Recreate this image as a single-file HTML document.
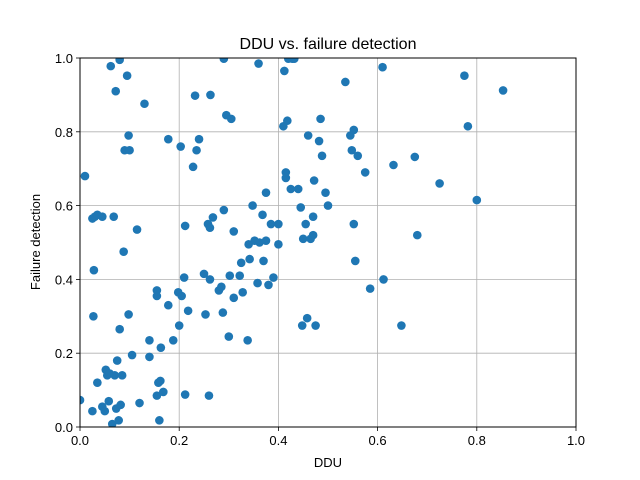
<!DOCTYPE html>
<html><head><meta charset="utf-8"><style>body{margin:0;background:#fff}svg{display:block;font-family:"Liberation Sans","DejaVu Sans",sans-serif}</style></head>
<body>
<svg id="chart" width="640" height="480">
<defs><clipPath id="clip"><rect x="80" y="58" width="496" height="369"/></clipPath></defs>
<rect width="640" height="480" fill="#fff"/>
<text x="328" y="49" text-anchor="middle" font-size="16">DDU vs. failure detection</text>
<g id="grid"></g>
<g id="points" clip-path="url(#clip)"></g>
<rect x="80" y="58" width="496" height="369" fill="none" stroke="#000" stroke-width="1"/>
<g id="ticks"></g>
<text x="328" y="467" text-anchor="middle" font-size="13">DDU</text>
<text x="40" y="242" text-anchor="middle" font-size="13" transform="rotate(-90 40 242)">Failure detection</text>
</svg>
<script>
const xTicks=[0,0.2,0.4,0.6,0.8,1.0];
const xTickLabels=["0.0","0.2","0.4","0.6","0.8","1.0"];
const yTicks=[0,0.2,0.4,0.6,0.8,1.0];
const yTickLabels=["0.0","0.2","0.4","0.6","0.8","1.0"];
const ddu=[0.0,0.01,0.025,0.027,0.028,0.025,0.03,0.035,0.035,0.045,0.045,0.05,0.052,0.055,0.058,0.06,0.062,0.065,0.068,0.07,0.072,0.073,0.075,0.078,0.08,0.08,0.082,0.085,0.088,0.09,0.095,0.098,0.1,0.098,0.105,0.115,0.12,0.13,0.14,0.14,0.155,0.155,0.155,0.158,0.16,0.162,0.163,0.168,0.178,0.178,0.188,0.198,0.2,0.203,0.205,0.21,0.212,0.212,0.218,0.228,0.232,0.235,0.24,0.25,0.253,0.258,0.26,0.262,0.263,0.262,0.268,0.28,0.285,0.288,0.29,0.29,0.295,0.3,0.302,0.305,0.31,0.31,0.322,0.325,0.328,0.338,0.34,0.342,0.348,0.352,0.358,0.36,0.362,0.368,0.37,0.375,0.375,0.38,0.385,0.39,0.4,0.4,0.41,0.412,0.415,0.415,0.418,0.42,0.425,0.428,0.432,0.44,0.445,0.448,0.45,0.455,0.458,0.46,0.465,0.47,0.47,0.472,0.475,0.482,0.485,0.488,0.495,0.5,0.535,0.545,0.548,0.552,0.552,0.555,0.56,0.575,0.585,0.61,0.612,0.632,0.648,0.675,0.68,0.725,0.775,0.782,0.8,0.853];
const detection=[0.073,0.68,0.043,0.3,0.425,0.565,0.57,0.575,0.12,0.57,0.055,0.043,0.155,0.14,0.07,0.145,0.978,0.008,0.57,0.14,0.91,0.05,0.18,0.018,0.995,0.265,0.06,0.14,0.475,0.75,0.952,0.79,0.75,0.305,0.195,0.535,0.065,0.876,0.19,0.235,0.37,0.355,0.085,0.12,0.018,0.125,0.215,0.095,0.33,0.78,0.235,0.365,0.275,0.76,0.355,0.405,0.545,0.088,0.315,0.705,0.898,0.75,0.78,0.415,0.305,0.55,0.085,0.4,0.9,0.54,0.568,0.37,0.38,0.31,0.588,0.998,0.845,0.245,0.41,0.835,0.53,0.35,0.41,0.445,0.365,0.235,0.495,0.455,0.6,0.505,0.39,0.985,0.5,0.575,0.45,0.635,0.505,0.385,0.55,0.405,0.55,0.495,0.815,0.965,0.675,0.69,0.83,0.998,0.645,0.998,0.998,0.645,0.595,0.275,0.51,0.55,0.295,0.79,0.51,0.52,0.57,0.668,0.275,0.775,0.835,0.735,0.635,0.6,0.935,0.79,0.75,0.805,0.55,0.45,0.735,0.69,0.375,0.975,0.4,0.71,0.275,0.732,0.52,0.66,0.952,0.815,0.615,0.912];
const NS="http://www.w3.org/2000/svg";
const X0=80,X1=576,Y0=427,Y1=58;
function sx(v){return X0+v*(X1-X0);}
function sy(v){return Y0-v*(Y0-Y1);}
const grid=document.getElementById('grid'),ticks=document.getElementById('ticks'),pts=document.getElementById('points');
function mk(t,a,p){const e=document.createElementNS(NS,t);for(const k in a)e.setAttribute(k,a[k]);p.appendChild(e);return e;}
xTicks.forEach((v,i)=>{
  const x=sx(v);
  const g=mk('line',{x1:x,x2:x,y1:Y1,y2:Y0,stroke:'#b0b0b0','stroke-width':0.8},grid);
  
  
  mk('line',{x1:x,x2:x,y1:Y0,y2:Y0+4,stroke:'#000','stroke-width':0.8},ticks);
  const t=mk('text',{x:x,y:Y0+18,'text-anchor':'middle','font-size':13},ticks);
  t.textContent=xTickLabels[i];
  
  
});
yTicks.forEach((v,i)=>{
  const y=sy(v);
  const g=mk('line',{x1:X0,x2:X1,y1:y,y2:y,stroke:'#b0b0b0','stroke-width':0.8},grid);
  
  
  mk('line',{x1:X0-4,x2:X0,y1:y,y2:y,stroke:'#000','stroke-width':0.8},ticks);
  const t=mk('text',{x:X0-7,y:y+5,'text-anchor':'end','font-size':13},ticks);
  t.textContent=yTickLabels[i];
  
  
});
ddu.forEach((v,i)=>{
  const c=mk('circle',{cx:sx(v),cy:sy(detection[i]),r:4.3,fill:'#1f77b4'},pts);
  
  
});
</script>
</body></html>
